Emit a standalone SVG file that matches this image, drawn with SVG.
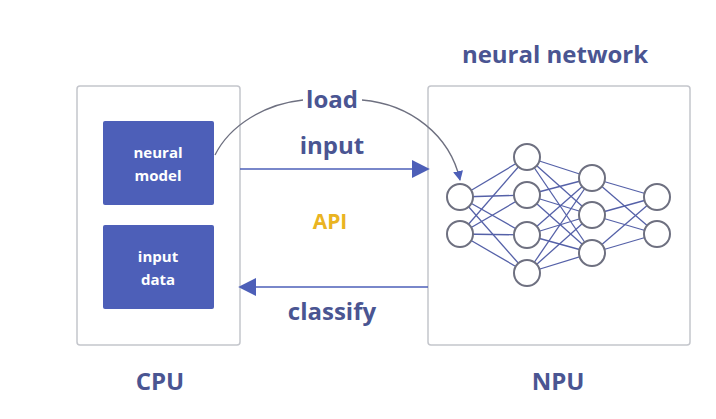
<svg xmlns="http://www.w3.org/2000/svg" width="716" height="419" viewBox="0 0 716 419">
<style>
.frame{fill:#fff;stroke:#c4c6cc;stroke-width:1.5}
.blk{fill:#4d5fb8}
.wt{fill:#fff;font-family:"Open Sans",sans-serif;font-weight:bold;font-size:15px;text-anchor:middle}
.lb{fill:#4a5592;font-family:"Open Sans",sans-serif;font-weight:bold;font-size:24px;text-anchor:middle}
.ln{stroke:#4d5fb8;stroke-width:1.6;fill:none}
.cv{stroke:#6e7080;stroke-width:1.3;fill:none}
.nr{fill:#fff;stroke:#6e7080;stroke-width:2}
.ed line{stroke:#5561a8;stroke-width:1.3}
</style>
<defs>
<marker id="ah" viewBox="0 0 10 10" refX="9" refY="5" markerWidth="10" markerHeight="10" markerUnits="userSpaceOnUse" orient="auto"><path d="M0,0L10,5L0,10z" fill="#4d5fb8"/></marker>
<marker id="ah2" viewBox="0 0 10 10" refX="9" refY="5" markerWidth="18" markerHeight="18" markerUnits="userSpaceOnUse" orient="auto"><path d="M0,0L10,5L0,10z" fill="#4d5fb8"/></marker>
</defs>
<rect width="716" height="419" fill="#fff"/>
<g id="cpu">
<rect class="frame" x="77" y="86" width="163" height="259" rx="3"/>
<text class="lb" x="160" y="390">CPU</text>
</g>
<g id="neural-model"><rect class="blk" x="103" y="121" width="111" height="84" rx="2"/>
<text class="wt" x="158" y="158">neural</text><text class="wt" x="158" y="181">model</text></g>
<g id="input-data"><rect class="blk" x="103" y="225" width="111" height="84" rx="2"/>
<text class="wt" x="158" y="262">input</text><text class="wt" x="158" y="285">data</text></g>
<g id="npu">
<rect class="frame" x="428" y="86" width="262" height="259" rx="3"/>
<text class="lb" x="558" y="390">NPU</text>
<text class="lb" x="555" y="63">neural network</text>
</g>
<g id="network">
<g class="ed">
<line x1="460" y1="197" x2="527" y2="157"/><line x1="460" y1="197" x2="527" y2="195"/><line x1="460" y1="197" x2="527" y2="235"/><line x1="460" y1="197" x2="527" y2="273"/>
<line x1="460" y1="234" x2="527" y2="157"/><line x1="460" y1="234" x2="527" y2="195"/><line x1="460" y1="234" x2="527" y2="235"/><line x1="460" y1="234" x2="527" y2="273"/>
<line x1="527" y1="157" x2="592" y2="178"/><line x1="527" y1="157" x2="592" y2="215"/><line x1="527" y1="157" x2="592" y2="253"/>
<line x1="527" y1="195" x2="592" y2="178"/><line x1="527" y1="195" x2="592" y2="215"/><line x1="527" y1="195" x2="592" y2="253"/>
<line x1="527" y1="235" x2="592" y2="178"/><line x1="527" y1="235" x2="592" y2="215"/><line x1="527" y1="235" x2="592" y2="253"/>
<line x1="527" y1="273" x2="592" y2="178"/><line x1="527" y1="273" x2="592" y2="215"/><line x1="527" y1="273" x2="592" y2="253"/>
<line x1="592" y1="178" x2="657" y2="197"/><line x1="592" y1="178" x2="657" y2="234"/>
<line x1="592" y1="215" x2="657" y2="197"/><line x1="592" y1="215" x2="657" y2="234"/>
<line x1="592" y1="253" x2="657" y2="197"/><line x1="592" y1="253" x2="657" y2="234"/>
</g>
<circle class="nr" cx="460" cy="197" r="13"/><circle class="nr" cx="460" cy="234" r="13"/>
<circle class="nr" cx="527" cy="157" r="13"/><circle class="nr" cx="527" cy="195" r="13"/><circle class="nr" cx="527" cy="235" r="13"/><circle class="nr" cx="527" cy="273" r="13"/>
<circle class="nr" cx="592" cy="178" r="13"/><circle class="nr" cx="592" cy="215" r="13"/><circle class="nr" cx="592" cy="253" r="13"/>
<circle class="nr" cx="657" cy="197" r="13"/><circle class="nr" cx="657" cy="234" r="13"/>
</g>
<g id="connectors">
<path class="cv" d="M215,155 C230,125 265,104 303,100"/>
<path class="cv" d="M362,100 C410,104 450,135 460,180" marker-end="url(#ah)"/>
<line class="ln" x1="240" y1="169" x2="428" y2="169" marker-end="url(#ah2)"/>
<line class="ln" x1="428" y1="287" x2="240" y2="287" marker-end="url(#ah2)"/>
<text class="lb" x="332" y="108">load</text>
<text class="lb" x="332" y="154">input</text>
<text class="lb" x="330" y="229" style="fill:#eab422;font-size:21px">API</text>
<text class="lb" x="332" y="320">classify</text>
</g>
</svg>
